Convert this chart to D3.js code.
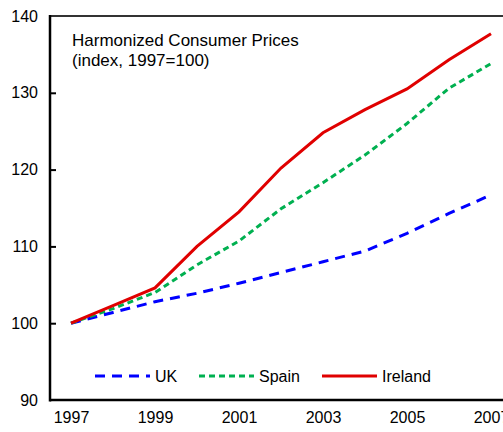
<!DOCTYPE html>
<html>
<head>
<meta charset="utf-8">
<script src="https://cdn.jsdelivr.net/npm/d3@7"></script>
<style>
  body { margin: 0; background: #fff; }
  svg { display: block; font-family: "Liberation Sans", Arial, sans-serif; }
</style>
</head>
<body>
<script>
const years = [1997, 1998, 1999, 2000, 2001, 2002, 2003, 2004, 2005, 2006, 2007];
const uk = [100, 101.4, 102.8, 103.9, 105.2, 106.6, 108.0, 109.4, 111.7, 114.3, 116.7];
const spain = [100, 101.9, 104.0, 107.6, 110.7, 114.9, 118.3, 121.9, 126.0, 130.6, 133.8];
const ireland = [100, 102.3, 104.6, 110.0, 114.5, 120.2, 124.8, 127.8, 130.5, 134.3, 137.7];
const xTicks = [1997, 1999, 2001, 2003, 2005, 2007];
const yTicks = [90, 100, 110, 120, 130, 140];
const titleLines = ['Harmonized Consumer Prices', '(index, 1997=100)'];

const w = 503, h = 432;
const padLeft = 50, padTop = 16, padBottom = 400;

const x = d3.scaleLinear().domain([1997, 2007]).range([71, 491]);
const y = d3.scaleLinear().domain([90, 140]).range([padBottom, padTop]);

const svg = d3.select('body').append('svg').attr('width', w).attr('height', h);

// top border
svg.append('line').attr('x1', padLeft).attr('x2', w).attr('y1', padTop).attr('y2', padTop)
   .attr('stroke', '#333').attr('stroke-width', 2);

// y axis
const yAxis = d3.axisLeft(y).tickValues(yTicks).tickSize(0).tickPadding(12);
const gy = svg.append('g').attr('transform', 'translate(' + padLeft + ',0)').call(yAxis);
gy.select('.domain').remove();
gy.selectAll('text').style('font-size', '16px').attr('fill', '#000');
gy.selectAll('.tick').filter(d => d > 90 && d < 140).append('line')
  .attr('x1', 0).attr('x2', 6).attr('stroke', '#000').attr('stroke-width', 2);
svg.append('line').attr('x1', padLeft).attr('x2', padLeft).attr('y1', padTop - 1).attr('y2', padBottom + 1.5)
   .attr('stroke', '#000').attr('stroke-width', 2.5);

// x axis
const xAxis = d3.axisBottom(x).tickValues(xTicks).tickFormat(d3.format('d')).tickSize(0).tickPadding(12);
const gx = svg.append('g').attr('transform', 'translate(0,' + padBottom + ')').call(xAxis);
gx.select('.domain').remove();
gx.selectAll('text').style('font-size', '16px').attr('fill', '#000');
svg.append('line').attr('x1', padLeft).attr('x2', w).attr('y1', padBottom).attr('y2', padBottom)
   .attr('stroke', '#000').attr('stroke-width', 2.5);

// title
svg.append('text').attr('x', 72).attr('y', 46).style('font-size', '17px')
   .selectAll('tspan').data(titleLines).enter().append('tspan')
   .attr('x', 72).attr('dy', (d, i) => i === 0 ? 0 : 20).text(d => d);

const series = [
  { name: 'UK', values: uk, color: '#0000ff', dash: '10,7' },
  { name: 'Spain', values: spain, color: '#00b050', dash: '6,4' },
  { name: 'Ireland', values: ireland, color: '#e00000', dash: null }
];

const line = d3.line().x((d, i) => x(years[i])).y(d => y(d));

series.forEach(s => {
  svg.append('path').datum(s.values)
     .attr('d', line)
     .attr('fill', 'none')
     .attr('stroke', s.color)
     .attr('stroke-width', 3)
     .attr('stroke-dasharray', s.dash);
});

// legend
const legendX = [95, 199, 322];
const lg = svg.append('g');
series.forEach((s, i) => {
  lg.append('line').attr('x1', legendX[i]).attr('x2', legendX[i] + 55)
    .attr('y1', 376).attr('y2', 376)
    .attr('stroke', s.color).attr('stroke-width', 3).attr('stroke-dasharray', s.dash);
  lg.append('text').attr('x', legendX[i] + 60).attr('y', 382)
    .style('font-size', '16px').text(s.name);
});
</script>
</body>
</html>
